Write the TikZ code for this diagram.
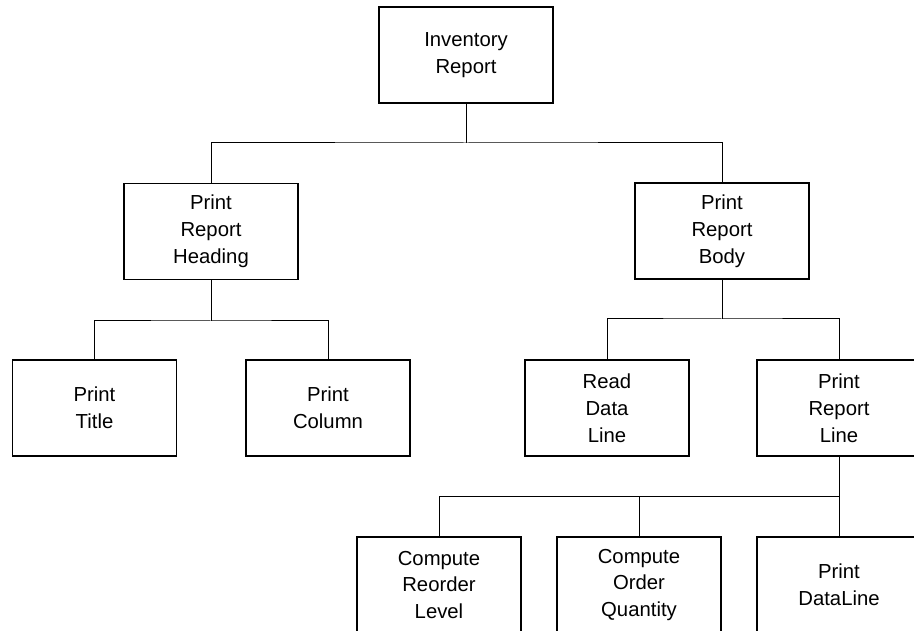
\documentclass[tikz,border=0pt]{standalone}
\usepackage{fontspec}
\setmainfont{Liberation Sans}
\begin{document}
\begin{tikzpicture}[x=1pt,y=-1pt,
  module/.style={draw=black, line width=1.2pt, rectangle, inner sep=0pt,
    minimum height=96pt, align=center,
    font=\fontsize{20.3}{26.9}\selectfont},
  wide/.style={module, minimum width=174pt},
  narrow/.style={module, minimum width=164pt},
  link/.style={draw=black, line width=1pt}]
\useasboundingbox (0,0) rectangle (914,631);
\clip (0,0) rectangle (914,631);
\fill[white] (0,0) rectangle (914,631);

% top level
\node[wide] (inv) at (466,55) {Inventory\\Report};

% second level
\node[wide] (hdg)  at (211,231.5) {Print\\Report\\Heading};
\node[wide] (body) at (722,231)   {Print\\Report\\Body};

% third level
\node[narrow] (title)  at (94.5,408) {Print\\Title};
\node[narrow] (column) at (328,408)  {Print\\Column};
\node[narrow] (read)   at (607,408)  {Read\\Data\\Line};
\node[narrow] (pline)  at (839,408)  {Print\\Report\\Line};

% fourth level
\node[narrow] (reorder) at (439,585) {Compute\\Reorder\\Level};
\node[narrow] (order)   at (639,585) {Compute\\Order\\Quantity};
\node[narrow] (dline)   at (839,585) {Print\\DataLine};

% connectors
\coordinate (b1) at (inv.south |- 0,143);
\path[link] (inv.south) -- (b1);
\path[link] (hdg.north) |- (b1) -| (body.north);

\coordinate (b2) at (hdg.south |- 0,321);
\path[link] (hdg.south) -- (b2);
\path[link] (title.north) |- (b2) -| (column.north);

\coordinate (b3) at (body.south |- 0,319);
\path[link] (body.south) -- (b3);
\path[link] (read.north) |- (b3) -| (pline.north);

\coordinate (b4) at (pline.south |- 0,496);
\path[link] (pline.south) -- (b4);
\path[link] (reorder.north) |- (b4) -- (dline.north);
\path[link] (order.north) -- (order.north |- b4);
\end{tikzpicture}
\end{document}
